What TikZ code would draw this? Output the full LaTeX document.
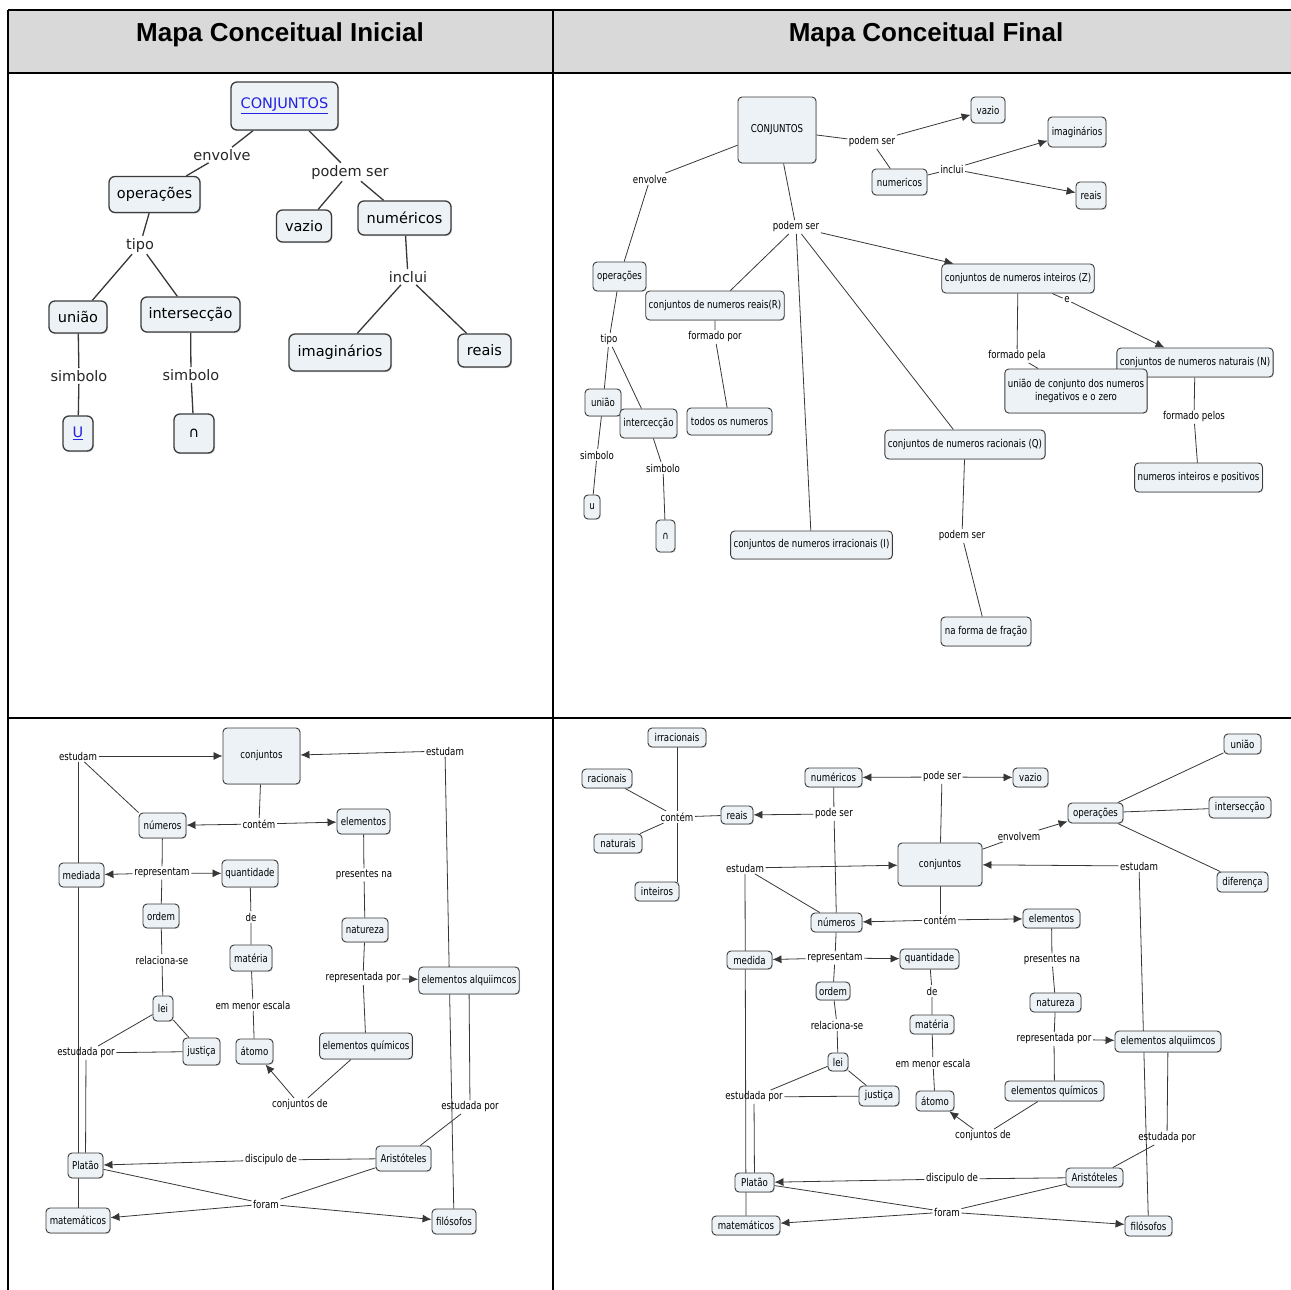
\documentclass[tikz,border=0pt]{standalone}
\usepackage{fontspec}
\setmainfont{DejaVu Sans}
\newfontfamily\headfont{Liberation Sans}
\newfontfamily\narrowfont[FakeStretch=0.8]{DejaVu Sans}
\usetikzlibrary{arrows.meta,shadows}

\definecolor{nodefill}{RGB}{236,242,245}
\definecolor{nodeline}{RGB}{60,60,60}
\definecolor{wirecol}{RGB}{55,55,55}
\definecolor{headgray}{RGB}{217,217,217}
\definecolor{linkblue}{RGB}{35,35,225}

\pgfdeclarelayer{back}
\pgfdeclarelayer{wires}
\pgfsetlayers{back,wires,main}

\tikzset{
  sz/.style 2 args={minimum width=#1, minimum height=#2},
  bigbox/.style={draw=nodeline, fill=nodefill, rounded corners=6pt, line width=1.3pt,
    inner xsep=4pt, inner ysep=2pt, font=\fontsize{14.5}{16}\selectfont,
    drop shadow={shadow xshift=1pt,shadow yshift=-1.2pt,opacity=0.35}},
  bigtag/.style={inner sep=2pt, font=\fontsize{14.5}{16}\selectfont, text=black!85},
  box/.style={draw=nodeline, fill=nodefill, rounded corners=4pt, line width=0.9pt,
    inner xsep=3pt, inner ysep=2pt, font=\fontsize{10.8}{12.5}\narrowfont,
    drop shadow={shadow xshift=0.8pt,shadow yshift=-0.9pt,opacity=0.3}},
  tag/.style={inner sep=1.5pt, font=\fontsize{10.8}{12.5}\narrowfont},
  bigwire/.style={draw=wirecol, line width=1.3pt},
  wire/.style={draw=wirecol, line width=0.8pt},
  arr/.style={wire, -{Latex[length=9pt,width=8pt]}},
  headtext/.style={font=\headfont\bfseries\fontsize{26}{30}\selectfont}
}

\begin{document}
\begin{tikzpicture}[x=1pt,y=-1pt]
\useasboundingbox (0,0) rectangle (1291,1290);

% ---------- table frame ----------
\begin{pgfonlayer}{back}
  \fill[headgray] (8,10) rectangle (1291,73);
  \draw[line width=1.8pt] (8,10) -- (1291,10);
  \draw[line width=1.8pt] (8,10) -- (8,1290);
  \draw[line width=1.8pt] (553,10) -- (553,1290);
  \draw[line width=2.2pt] (8,73) -- (1291,73);
  \draw[line width=1.6pt] (8,718) -- (1291,718);
\end{pgfonlayer}
\node[headtext] (hIni) at (280,35) {Mapa Conceitual Inicial};
\node[headtext] (hFin) at (926,35) {Mapa Conceitual Final};

% ---------- initial map, first version ----------
\node[bigbox,sz={107}{48}] (tlC) at (284.5,106) {\textcolor{linkblue}{\underline{CONJUNTOS}}};
\node[bigtag] (tlEnv) at (222,155) {envolve};
\node[bigtag] (tlPod) at (350,172) {podem ser};
\node[bigbox,sz={91}{36}] (tlOps) at (154.5,194.5) {operações};
\node[bigbox,sz={55}{32}] (tlVaz) at (304,226) {vazio};
\node[bigbox,sz={93}{34}] (tlNum) at (404.5,218) {numéricos};
\node[bigtag] (tlTipo) at (140,245) {tipo};
\node[bigbox,sz={58}{32}] (tlUni) at (78,317) {união};
\node[bigbox,sz={99}{35}] (tlInt) at (190.5,314.5) {intersecção};
\node[bigtag] (tlIncl) at (408,277) {inclui};
\node[bigbox,sz={102}{37}] (tlImag) at (340,352.5) {imaginários};
\node[bigbox,sz={53}{33}] (tlReais) at (484.5,350.5) {reais};
\node[bigtag] (tlSimA) at (79,376) {simbolo};
\node[bigtag] (tlSimB) at (191,375) {simbolo};
\node[bigbox,sz={30}{35}] (tlU) at (78,433.5) {\textcolor{linkblue}{\underline{U}}};
\node[bigbox,sz={40}{39}] (tlCap) at (194,433.5) {∩};

\begin{pgfonlayer}{wires}
  \draw[bigwire] (tlC) -- (tlEnv) -- (tlOps);
  \draw[bigwire] (tlC) -- (tlPod) -- (tlVaz);
  \draw[bigwire] (tlPod) -- (tlNum);
  \draw[bigwire] (tlOps) -- (tlTipo) -- (tlUni);
  \draw[bigwire] (tlTipo) -- (tlInt);
  \draw[bigwire] (tlUni) -- (tlSimA) -- (tlU);
  \draw[bigwire] (tlInt) -- (tlSimB) -- (tlCap);
  \draw[bigwire] (tlNum) -- (tlIncl) -- (tlImag);
  \draw[bigwire] (tlIncl) -- (tlReais);
\end{pgfonlayer}

% ---------- final map, first version ----------
\node[box,sz={78}{66}] (trC) at (777,130) {CONJUNTOS};
\node[tag] (trEnv) at (650,179) {envolve};
\node[box,sz={53}{29}] (trOps) at (619.5,276.5) {operações};
\node[tag] (trPodA) at (872,142) {podem ser};
\node[box,sz={34}{26}] (trVaz) at (988,110) {vazio};
\node[box,sz={55}{26}] (trNum) at (899.5,182) {numericos};
\node[tag] (trIncl) at (952,169) {inclui};
\node[box,sz={58}{30}] (trImag) at (1077,132) {imaginários};
\node[box,sz={30}{27}] (trReais) at (1091,195.5) {reais};
\node[tag] (trPodB) at (796,227) {podem ser};
\node[box,sz={136}{29}] (trR) at (715,305.5) {conjuntos de numeros reais(R)};
\node[tag] (trForm) at (715,337) {formado por};
\node[box,sz={85}{27}] (trTodos) at (729.5,421.5) {todos os numeros};
\node[box,sz={150}{29}] (trZ) at (1018,278.5) {conjuntos de numeros inteiros (Z)};
\node[tag] (trE) at (1067,300) {e};
\node[box,sz={152}{29}] (trN) at (1195,362.5) {conjuntos de numeros naturais (N)};
\node[tag] (trFormA) at (1017,356) {formado pela};
\node[box,sz={138}{44},align=center] (trUZ) at (1076,391) {união de conjunto dos numeros\\inegativos e o zero};
\node[tag] (trFormB) at (1194,417) {formado pelos};
\node[box,sz={127}{29}] (trPos) at (1198.5,477.5) {numeros inteiros e positivos};
\node[box,sz={156}{29}] (trQ) at (965,444.5) {conjuntos de numeros racionais (Q)};
\node[tag] (trPodC) at (962,536) {podem ser};
\node[box,sz={90}{29}] (trFrac) at (986,631.5) {na forma de fração};
\node[box,sz={159}{28}] (trI) at (811.5,545) {conjuntos de numeros irracionais (I)};
\node[tag] (trTipo) at (609,340) {tipo};
\node[box,sz={36}{27}] (trUni) at (603,402.5) {união};
\node[box,sz={57}{29}] (trInt) at (648.5,423.5) {intercecção};
\node[tag] (trSimA) at (597,455) {simbolo};
\node[tag] (trSimB) at (663,468) {simbolo};
\node[box,sz={16}{24}] (trU) at (592,507) {u};
\node[box,sz={19}{32}] (trCap) at (665.5,536) {∩};

\begin{pgfonlayer}{wires}
  \draw[wire] (trC) -- (trEnv) -- (trOps);
  \draw[wire] (trC) -- (trPodA) -- (trNum);
  \draw[arr] (trPodA) -- (trVaz);
  \draw[wire] (trNum) -- (trIncl);
  \draw[arr] (trIncl) -- (trImag);
  \draw[arr] (trIncl) -- (trReais);
  \draw[wire] (trC) -- (trPodB) -- (trR);
  \draw[wire] (trPodB) -- (trI);
  \draw[wire] (trPodB) -- (trQ);
  \draw[arr] (trPodB) -- (trZ);
  \draw[wire] (trR) -- (trForm) -- (trTodos);
  \draw[wire] (trZ) -- (trE);
  \draw[arr] (trE) -- (trN);
  \draw[wire] (trZ) -- (trFormA) -- (trUZ);
  \draw[wire] (trN) -- (trFormB) -- (trPos);
  \draw[wire] (trQ) -- (trPodC) -- (trFrac);
  \draw[wire] (trOps) -- (trTipo) -- (trUni);
  \draw[wire] (trTipo) -- (trInt);
  \draw[wire] (trUni) -- (trSimA) -- (trU);
  \draw[wire] (trInt) -- (trSimB) -- (trCap);
\end{pgfonlayer}

% ---------- initial map, second version ----------
\node[box,sz={77}{56}] (blC) at (261.5,756) {conjuntos};
\node[tag] (blEstL) at (78,756) {estudam};
\node[tag] (blEstR) at (445,751) {estudam};
\node[box,sz={47}{25}] (blNum) at (162.5,825.5) {números};
\node[tag] (blCont) at (259,824) {contém};
\node[box,sz={53}{25}] (blElem) at (363.5,821.5) {elementos};
\node[box,sz={45}{24}] (blMed) at (81.5,875) {mediada};
\node[tag] (blRep) at (162,873) {representam};
\node[box,sz={56}{27}] (blQuant) at (250,873.5) {quantidade};
\node[box,sz={36}{24}] (blOrd) at (161,916) {ordem};
\node[tag] (blDe) at (251,917) {de};
\node[box,sz={42}{26}] (blMateria) at (251,958) {matéria};
\node[tag] (blRel) at (162,960) {relaciona-se};
\node[tag] (blPres) at (364,875) {presentes na};
\node[box,sz={46}{24}] (blNat) at (365,930) {natureza};
\node[tag] (blRepPor) at (363,978) {representada por};
\node[box,sz={100}{27}] (blAlq) at (469,980.5) {elementos alquiimcos};
\node[tag] (blMenor) at (253,1005) {em menor escala};
\node[box,sz={20}{25}] (blLei) at (163,1008.5) {lei};
\node[box,sz={37}{27}] (blJust) at (201.5,1051.5) {justiça};
\node[box,sz={37}{25}] (blAtomo) at (254.5,1051.5) {átomo};
\node[box,sz={92}{26}] (blQuim) at (366,1046) {elementos químicos};
\node[tag] (blEstPorL) at (86,1053) {estudada por};
\node[tag] (blConjDe) at (300,1105) {conjuntos de};
\node[tag] (blEstPorR) at (470,1107) {estudada por};
\node[box,sz={55}{25}] (blArist) at (403.5,1158.5) {Aristóteles};
\node[box,sz={35}{25}] (blPlat) at (85.5,1165.5) {Platão};
\node[tag] (blDisc) at (271,1160) {discipulo de};
\node[tag] (blForam) at (266,1204) {foram};
\node[box,sz={64}{25}] (blMatem) at (78,1220.5) {matemáticos};
\node[box,sz={44}{25}] (blFil) at (454,1221.5) {filósofos};

\begin{pgfonlayer}{wires}
  \draw[arr] (blEstL) -- (blC);
  \draw[wire] (blEstL) -- (blNum.north west);
  \draw[wire] (blEstL) -- (blMatem);
  \draw[wire] (blC) -- (blCont);
  \draw[arr] (blCont) -- (blNum);
  \draw[arr] (blCont) -- (blElem);
  \draw[wire] (blNum) -- (blRep);
  \draw[arr] (blRep) -- (blMed);
  \draw[arr] (blRep) -- (blQuant);
  \draw[wire] (blRep) -- (blOrd) -- (blRel) -- (blLei);
  \draw[wire] (blQuant) -- (blDe) -- (blMateria) -- (blMenor) -- (blAtomo);
  \draw[wire] (blElem) -- (blPres) -- (blNat) -- (blRepPor) -- (blQuim);
  \draw[arr] (blRepPor) -- (blAlq);
  \draw[arr] (blEstR) -- (blC);
  \draw[wire] (blEstR) -- (blFil);
  \draw[wire] (blAlq) -- (blEstPorR) -- (blArist);
  \draw[wire] (blQuim) -- (blConjDe);
  \draw[arr] (blConjDe) -- (blAtomo);
  \draw[wire] (blLei) -- (blEstPorL);
  \draw[wire] (blLei) -- (blJust);
  \draw[wire] (blJust) -- (blEstPorL) -- (blPlat);
  \draw[wire] (blArist) -- (blDisc);
  \draw[arr] (blDisc) -- (blPlat);
  \draw[wire] (blPlat) -- (blForam);
  \draw[wire] (blArist) -- (blForam);
  \draw[arr] (blForam) -- (blMatem);
  \draw[arr] (blForam) -- (blFil);
\end{pgfonlayer}

% ---------- final map, second version ----------
\node[box,sz={58}{19}] (brIrr) at (677,737.5) {irracionais};
\node[box,sz={50}{19}] (brRac) at (607,778.5) {racionais};
\node[tag] (brCont) at (677,817) {contém};
\node[box,sz={48}{19}] (brNat) at (618,843.5) {naturais};
\node[box,sz={44}{19}] (brInt) at (657,891.5) {inteiros};
\node[box,sz={32}{18}] (brReais) at (737,815) {reais};
\node[tag] (brPodA) at (834,814) {pode ser};
\node[box,sz={57}{19}] (brNumer) at (833.5,777.5) {numéricos};
\node[tag] (brPodB) at (942,777) {pode ser};
\node[box,sz={35}{19}] (brVaz) at (1030.5,777.5) {vazio};
\node[box,sz={84}{43}] (brC) at (940,864.5) {conjuntos};
\node[tag] (brEnv) at (1019,836) {envolvem};
\node[box,sz={55}{20}] (brOps) at (1095.5,813) {operações};
\node[box,sz={37}{20}] (brUni) at (1242.5,744) {união};
\node[box,sz={62}{21}] (brInters) at (1240,807.5) {intersecção};
\node[box,sz={51}{20}] (brDif) at (1242.5,882) {diferença};
\node[tag] (brEstR) at (1139,866) {estudam};
\node[tag] (brEstL) at (745,868) {estudam};
\node[box,sz={51}{19}] (brNum) at (836.5,922.5) {números};
\node[tag] (brCont2) at (940,920) {contém};
\node[box,sz={57}{19}] (brElem) at (1051.5,918.5) {elementos};
\node[box,sz={45}{18}] (brMed) at (749.5,960) {medida};
\node[tag] (brRep) at (835,958) {representam};
\node[box,sz={59}{20}] (brQuant) at (929.5,959) {quantidade};
\node[box,sz={32}{18}] (brOrd) at (833,991) {ordem};
\node[tag] (brDe) at (932,991) {de};
\node[tag] (brPres) at (1052,960) {presentes na};
\node[tag] (brRel) at (837,1025) {relaciona-se};
\node[box,sz={44}{19}] (brMateria) at (932,1024.5) {matéria};
\node[box,sz={51}{19}] (brNatur) at (1055.5,1002.5) {natureza};
\node[tag] (brRepPor) at (1054,1039) {representada por};
\node[box,sz={106}{21}] (brAlq) at (1168,1041.5) {elementos alquiimcos};
\node[box,sz={20}{18}] (brLei) at (838,1062) {lei};
\node[tag] (brMenor) at (933,1063) {em menor escala};
\node[box,sz={99}{20}] (brQuim) at (1054.5,1091) {elementos químicos};
\node[box,sz={40}{20}] (brJust) at (879,1096) {justiça};
\node[tag] (brEstPorL) at (754,1097) {estudada por};
\node[box,sz={38}{20}] (brAtomo) at (935,1101) {átomo};
\node[tag] (brConjDe) at (983,1136) {conjuntos de};
\node[tag] (brEstPorR) at (1167,1138) {estudada por};
\node[box,sz={57}{19}] (brArist) at (1094.5,1177.5) {Aristóteles};
\node[box,sz={39}{19}] (brPlat) at (754.5,1182.5) {Platão};
\node[tag] (brDisc) at (952,1179) {discipulo de};
\node[tag] (brForam) at (947,1212) {foram};
\node[box,sz={68}{19}] (brMatem) at (746,1225.5) {matemáticos};
\node[box,sz={47}{20}] (brFil) at (1148.5,1226) {filósofos};

\begin{pgfonlayer}{wires}
  \draw[wire] (brIrr) -- (brCont);
  \draw[wire] (brRac) -- (brCont);
  \draw[wire] (brNat) -- (brCont);
  \draw[wire] (brCont) -- (brCont |- brInt.north);
  \draw[wire] (brReais) -- (brCont);
  \draw[arr] (brPodA) -- (brReais);
  \draw[wire] (brNumer) -- (brPodA) -- (brNum);
  \draw[arr] (brPodB) -- (brNumer);
  \draw[arr] (brPodB) -- (brVaz);
  \draw[wire] (brC) -- (brPodB);
  \draw[wire] (brC) -- (brEnv);
  \draw[arr] (brEnv) -- (brOps);
  \draw[wire] (brOps) -- (brUni);
  \draw[wire] (brOps) -- (brInters);
  \draw[wire] (brOps) -- (brDif);
  \draw[arr] (brEstR) -- (brC);
  \draw[wire] (brEstR) -- (brFil);
  \draw[arr] (brEstL) -- (brC);
  \draw[wire] (brEstL) -- (brNum);
  \draw[wire] (brEstL) -- (brMatem);
  \draw[wire] (brC) -- (brCont2);
  \draw[arr] (brCont2) -- (brNum);
  \draw[arr] (brCont2) -- (brElem);
  \draw[wire] (brNum) -- (brRep);
  \draw[arr] (brRep) -- (brMed);
  \draw[arr] (brRep) -- (brQuant);
  \draw[wire] (brRep) -- (brOrd) -- (brRel) -- (brLei);
  \draw[wire] (brQuant) -- (brDe) -- (brMateria) -- (brMenor) -- (brAtomo);
  \draw[wire] (brElem) -- (brPres) -- (brNatur) -- (brRepPor) -- (brQuim);
  \draw[arr] (brRepPor) -- (brAlq);
  \draw[wire] (brAlq) -- (brEstPorR) -- (brArist);
  \draw[wire] (brQuim) -- (brConjDe);
  \draw[arr] (brConjDe) -- (brAtomo);
  \draw[wire] (brLei) -- (brEstPorL);
  \draw[wire] (brLei) -- (brJust);
  \draw[wire] (brJust) -- (brEstPorL) -- (brPlat);
  \draw[wire] (brArist) -- (brDisc);
  \draw[arr] (brDisc) -- (brPlat);
  \draw[wire] (brPlat) -- (brForam);
  \draw[wire] (brArist) -- (brForam);
  \draw[arr] (brForam) -- (brMatem);
  \draw[arr] (brForam) -- (brFil);
\end{pgfonlayer}
\end{tikzpicture}
\end{document}
